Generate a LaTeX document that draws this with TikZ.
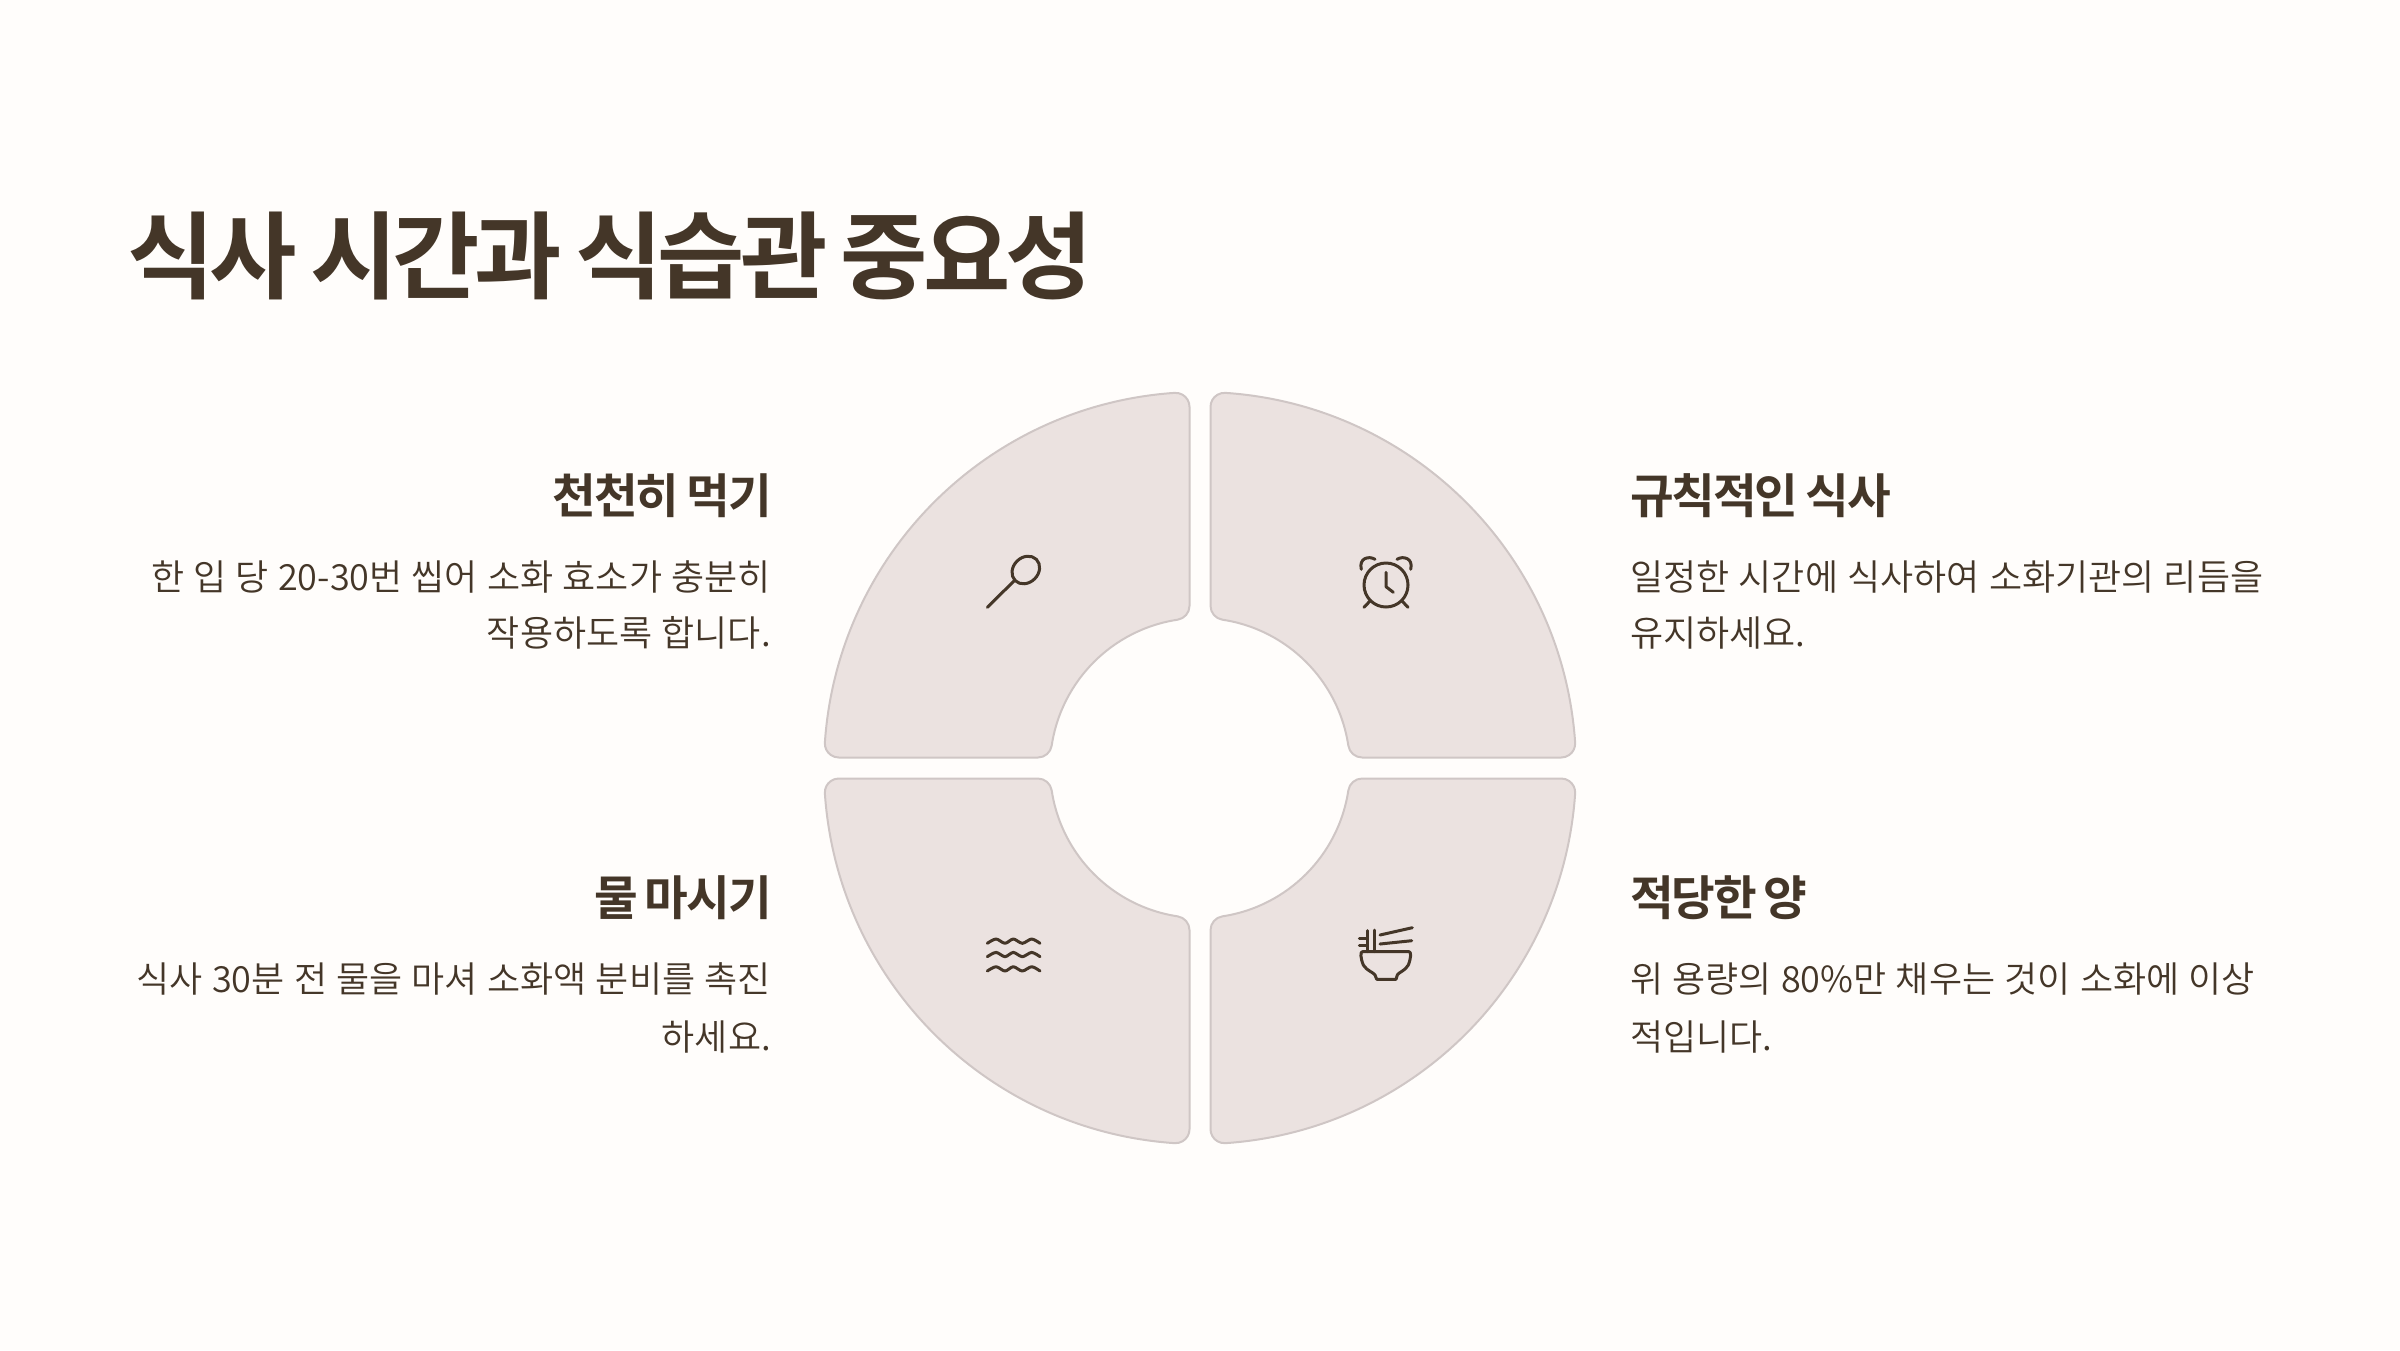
\documentclass[tikz,border=0pt]{standalone}
\usepackage{fontspec}
\setmainfont{Noto Sans CJK KR}
\newfontfamily\bodyfont[WordSpace=1.15]{Noto Sans CJK KR DemiLight}
\newfontfamily\headfont[LetterSpace=-4.5,WordSpace=0.8]{Noto Sans CJK KR Bold}
\newfontfamily\titlefont[LetterSpace=-5.3,WordSpace=0.8]{Noto Sans CJK KR Bold}
\definecolor{bgc}{HTML}{FFFDFB}
\definecolor{ink}{HTML}{443628}
\definecolor{petal}{HTML}{EBE2E0}
\definecolor{petalline}{HTML}{CFC6C5}
\newcommand{\petalpath}{
  (-10.5,361.17) arc[start angle=0,end angle=93.88,radius=14pt]
  arc[start angle=93.88,end angle=176.12,radius=376pt]
  arc[start angle=176.12,end angle=270,radius=14pt]
  -- (-162.16,10.5)
  arc[start angle=270,end angle=351.41,radius=14pt]
  arc[start angle=171.41,end angle=98.59,radius=150pt]
  arc[start angle=278.59,end angle=360,radius=14pt]
  -- cycle}
\tikzset{
  petalshape/.style={fill=petal,draw=petalline,line width=2pt},
  iconline/.style={draw=ink,line width=3pt,line cap=round,line join=round},
  titletext/.style={font=\titlefont\fontsize{95}{110}\selectfont,text=ink,anchor=base west,inner sep=0pt},
  headtext/.style={font=\headfont\fontsize{47.5}{58}\selectfont,text=ink,inner sep=0pt},
  bodytext/.style={font=\bodyfont\fontsize{36}{58}\selectfont,text=ink,inner sep=0pt}
}
\begin{document}
\begin{tikzpicture}[x=1pt,y=-1pt]
\useasboundingbox (0,0) rectangle (2400,1350);
\fill[bgc] (0,0) rectangle (2400,1350);
\node[titletext] (title) at (127,291) {식사 시간과 식습관 중요성};

\begin{scope}[shift={(1200,768)},x=1pt,y=1pt]
  \draw[petalshape] \petalpath;
\end{scope}
\begin{scope}[shift={(1200,768)},x=1pt,y=1pt,xscale=-1]
  \draw[petalshape] \petalpath;
\end{scope}
\begin{scope}[shift={(1200,768)},x=1pt,y=1pt,yscale=-1]
  \draw[petalshape] \petalpath;
\end{scope}
\begin{scope}[shift={(1200,768)},x=1pt,y=1pt,xscale=-1,yscale=-1]
  \draw[petalshape] \petalpath;
\end{scope}

% spoon
\draw[iconline] (987.3,607.3) -- (1015,580);
\draw[iconline] (1025.8,570) ellipse[x radius=15pt,y radius=12.5pt,rotate=45];
% clock
\draw[iconline] (1386,585) circle[radius=22pt];
\draw[iconline] (1386,572.3) -- (1386,586.7) -- (1393.3,592.3);
\draw[iconline] (1370,601) -- (1364,607.3);
\draw[iconline] (1402,601) -- (1408,607.3);
\draw[iconline] (1361.3,569.3) .. controls (1358.5,558) and (1369,555.5) .. (1375,559.3);
\draw[iconline] (1410.7,569.3) .. controls (1413.5,558) and (1403,555.5) .. (1397,559.3);
% waves
\foreach \dy in {0,13.4,27.7}{
  \draw[iconline,yshift=-\dy pt] plot[smooth,tension=0.5] coordinates {(987.3,943.3) (996,939) (1005,943.3) (1013.3,939) (1022.3,943.3) (1031.7,939) (1040,943.3)};
}
% noodle bowl
\draw[iconline] (1367.3,930.7) -- (1367.3,951.7);
\draw[iconline] (1374,930) -- (1374,951.7);
\draw[iconline] (1359.3,938.3) -- (1367.3,938.3);
\draw[iconline] (1359.3,945) -- (1367.3,945);
\draw[iconline] (1380,935) -- (1412.3,927.7);
\draw[iconline] (1380,944) -- (1411.7,940.7);
\draw[iconline] (1362.5,951.7) -- (1409,951.7) .. controls (1411.5,951.7) and (1411,958) .. (1408.3,965)
  .. controls (1405,971) and (1399,972) .. (1397.3,975) -- (1396,979.3) -- (1376.7,979.3) -- (1375,975)
  .. controls (1373,972) and (1367,971) .. (1363.3,965) .. controls (1360.5,958) and (1360,951.7) .. (1362.5,951.7) -- cycle;

% left texts
\node[headtext,anchor=base east] (h1) at (772,513) {천천히 먹기};
\node[bodytext,anchor=base east] (b1a) at (771,590) {한 입 당 20-30번 씹어 소화 효소가 충분히};
\node[bodytext,anchor=base east] (b1b) at (771,646.5) {작용하도록 합니다.};
\node[headtext,anchor=base east] (h2) at (772,915) {물 마시기};
\node[bodytext,anchor=base east] (b2a) at (771,992) {식사 30분 전 물을 마셔 소화액 분비를 촉진};
\node[bodytext,anchor=base east] (b2b) at (771,1050) {하세요.};
% right texts
\node[headtext,anchor=base west] (h3) at (1630,513) {규칙적인 식사};
\node[bodytext,anchor=base west] (b3a) at (1630,590) {일정한 시간에 식사하여 소화기관의 리듬을};
\node[bodytext,anchor=base west] (b3b) at (1630,646.5) {유지하세요.};
\node[headtext,anchor=base west] (h4) at (1630,915) {적당한 양};
\node[bodytext,anchor=base west] (b4a) at (1630,992) {위 용량의 80\%만 채우는 것이 소화에 이상};
\node[bodytext,anchor=base west] (b4b) at (1630,1050) {적입니다.};
\end{tikzpicture}
\end{document}
